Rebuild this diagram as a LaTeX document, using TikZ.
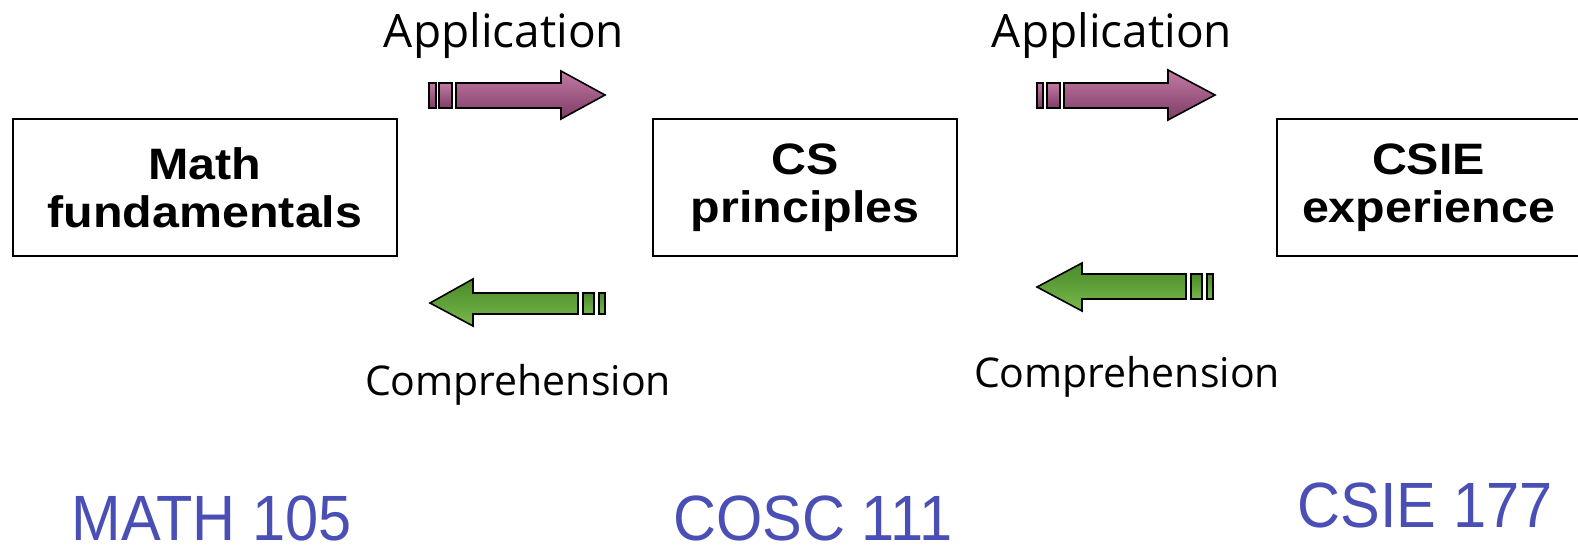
\documentclass[tikz,border=0pt]{standalone}
\usepackage{fontspec}
\setmainfont{Liberation Sans}
\newfontfamily\comicfont{Open Sans}
\newfontfamily\coursefont{Liberation Sans}
\definecolor{appTop}{HTML}{C27AA4}
\definecolor{appBot}{HTML}{7E3C66}
\definecolor{comTop}{HTML}{4A8A2A}
\definecolor{comBot}{HTML}{78B84A}
\definecolor{courseBlue}{HTML}{4A4FB5}
\begin{document}
\begin{tikzpicture}[x=1pt,y=-1pt,
  box/.style={draw=black,line width=1.4pt,fill=white,inner sep=0pt,
    align=center,font=\bfseries\fontsize{44}{48}\selectfont},
  apparrow/.style={draw=black,line width=1.6pt,line join=miter,top color=appTop,bottom color=appBot},
  comarrow/.style={draw=black,line width=1.6pt,line join=miter,top color=comTop,bottom color=comBot},
  lbl/.style={anchor=base,inner sep=0pt},
  course/.style={anchor=base,inner sep=0pt,text=courseBlue,font=\coursefont\fontsize{64}{70}\selectfont}]
\useasboundingbox (0,0) rectangle (1578,549);
\clip (0,0) rectangle (1578,549);

% boxes
\node[box,minimum width=384pt,minimum height=137pt] (math) at (205,187.5)
  {\scalebox{1.1}[1]{Math}\\\scalebox{1.1}[1]{fundamentals}};
\node[box,minimum width=304pt,minimum height=137pt] (cs) at (805,187.5)
  {\scalebox{1.1}[1]{CS}\\\scalebox{1.1}[1]{principles}};
\node[box,minimum width=303pt,minimum height=137pt] (csie) at (1428.5,187.5)
  {\scalebox{1.1}[1]{CSIE}\\\scalebox{1.1}[1]{experience}};

% application arrows (left to right)
\path[apparrow] (456,83) -- (561,83) -- (561,71) -- (605,95) -- (561,119) -- (561,108) -- (456,108) -- cycle;
\path[apparrow] (429,83) rectangle (436,108);
\path[apparrow] (439,83) rectangle (452,108);

\path[apparrow] (1064,83) -- (1168,83) -- (1168,70) -- (1215,95) -- (1168,120) -- (1168,108) -- (1064,108) -- cycle;
\path[apparrow] (1037,83) rectangle (1043,108);
\path[apparrow] (1047,83) rectangle (1060,108);

% comprehension arrows (right to left)
\path[comarrow] (578,293) -- (473,293) -- (473,279) -- (430,303) -- (473,326) -- (473,314) -- (578,314) -- cycle;
\path[comarrow] (583,293) rectangle (594,314);
\path[comarrow] (599,293) rectangle (605,314);

\path[comarrow] (1186,274) -- (1082,274) -- (1082,263) -- (1037,287) -- (1082,311) -- (1082,299) -- (1186,299) -- cycle;
\path[comarrow] (1191,274) rectangle (1202,299);
\path[comarrow] (1207,274) rectangle (1213,299);

% labels
\node[lbl,font=\comicfont\fontsize{46}{50}\selectfont] (app1) at (504,47) {Application};
\node[lbl,font=\comicfont\fontsize{46}{50}\selectfont] (app2) at (1112,47) {Application};
\node[lbl,font=\comicfont\fontsize{41}{45}\selectfont] (com1) at (518,395) {Comprehension};
\node[lbl,font=\comicfont\fontsize{41}{45}\selectfont] (com2) at (1127,387) {Comprehension};

% course codes
\node[course] (c1) at (211.5,540) {\scalebox{0.93}[1]{MATH 105}};
\node[course] (c2) at (813,540) {\scalebox{0.93}[1]{COSC 111}};
\node[course] (c3) at (1425,527) {\scalebox{0.93}[1]{CSIE 177}};
\end{tikzpicture}
\end{document}
